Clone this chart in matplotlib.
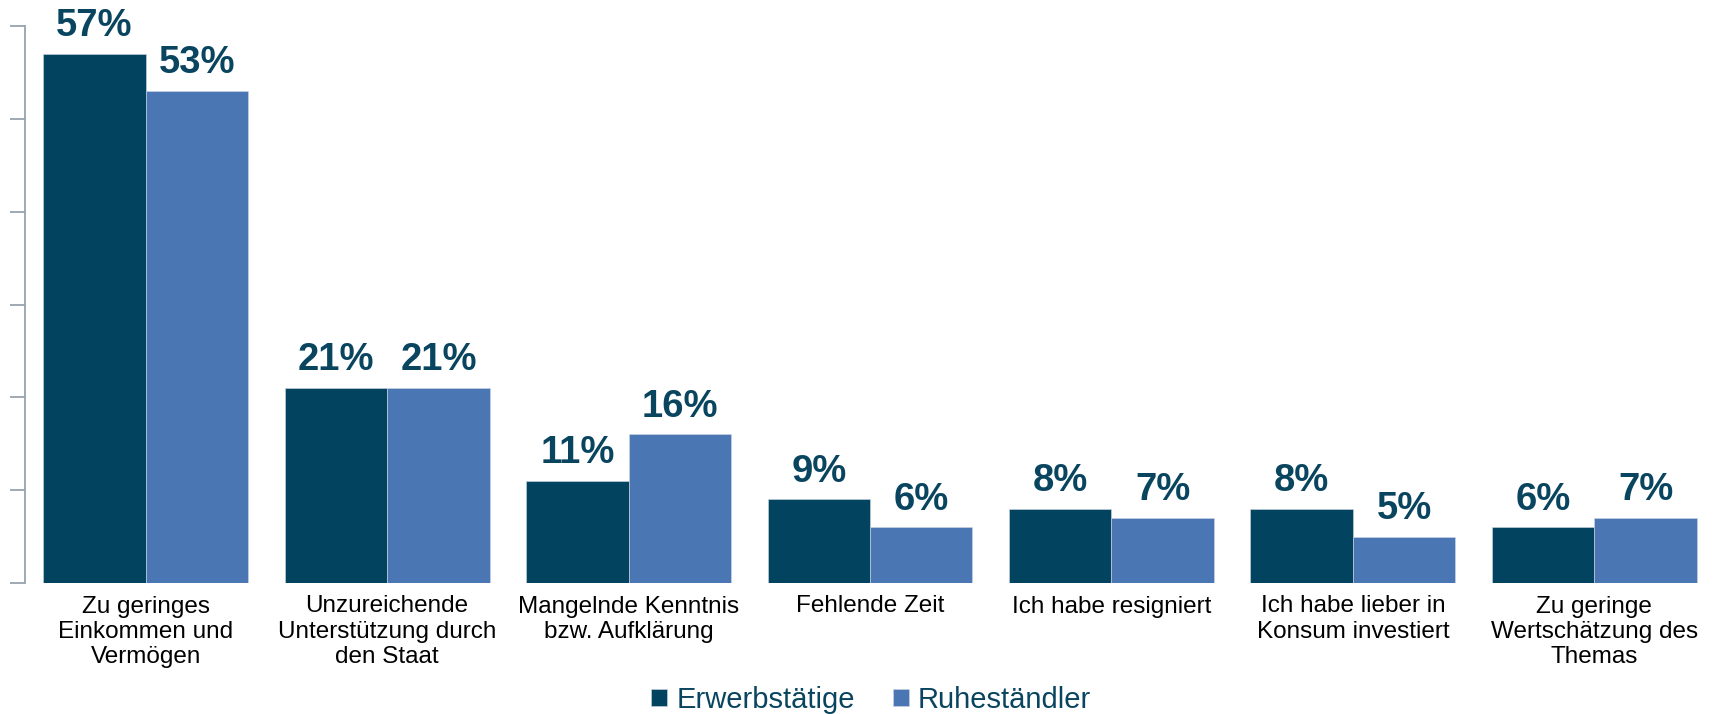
import matplotlib
matplotlib.use("Agg")
import matplotlib.pyplot as plt
import numpy as np

categories = [
    "Zu geringes\nEinkommen und\nVermögen",
    "Unzureichende\nUnterstützung durch\nden Staat",
    "Mangelnde Kenntnis\nbzw. Aufklärung",
    "Fehlende Zeit",
    "Ich habe resigniert",
    "Ich habe lieber in\nKonsum investiert",
    "Zu geringe\nWertschätzung des\nThemas",
]
series_names = ["Erwerbstätige", "Ruheständler"]
erwerbstaetige = [57, 21, 11, 9, 8, 8, 6]
ruhestaendler = [53, 21, 16, 6, 7, 5, 7]

dark = "#02435F"
light = "#4A77B4"
label_color = "#0A4560"
axis_gray = "#98A2AC"

plt.rcParams['font.family'] = ['Liberation Sans', 'DejaVu Sans']

fig = plt.figure(figsize=(17.15, 7.14), dpi=100)
ax = fig.add_axes([25 / 1715, 1 - 583 / 714, 1 - 25 / 1715, (583 - 26) / 714])

x = np.arange(len(categories))
w = 0.4245
b1 = ax.bar(x - w / 2, erwerbstaetige, w, color=dark, edgecolor="#d0d8e4", linewidth=0.4, label=series_names[0])
b2 = ax.bar(x + w / 2, ruhestaendler, w, color=light, edgecolor="#d0d8e4", linewidth=0.4, label=series_names[1])

for bars, vals in ((b1, erwerbstaetige), (b2, ruhestaendler)):
    for r, v in zip(bars, vals):
        ax.annotate(f"{v}%", (r.get_x() + r.get_width() / 2, r.get_height()),
                    xytext=(0, 7), textcoords="offset points",
                    ha="center", va="bottom", fontsize=27.5, fontweight="bold",
                    color=label_color)

ax.set_xlim(-0.5, 6.5)
ax.set_ylim(0, 60)
ax.set_yticks(np.arange(0, 61, 10))
ax.set_yticklabels([])
ax.set_xticks(x)
ax.set_xticklabels(categories, fontsize=17.5, color="black", linespacing=1.2)
ax.tick_params(axis="x", length=0, pad=9)
ax.tick_params(axis="y", direction="out", length=11, width=1.3, color=axis_gray)
for s in ("top", "right", "bottom"):
    ax.spines[s].set_visible(False)
ax.spines["left"].set_color(axis_gray)
ax.spines["left"].set_linewidth(1.3)

leg = fig.legend(handles=[b1, b2], labels=series_names, loc="center",
                 bbox_to_anchor=(871 / 1715, 1 - 700 / 714), ncol=2, frameon=False,
                 fontsize=21, handlelength=0.55, handleheight=0.55, handletextpad=0.3,
                 columnspacing=1.3, borderaxespad=0)
for t in leg.get_texts():
    t.set_color(label_color)

fig.savefig("out.png", dpi=100)
